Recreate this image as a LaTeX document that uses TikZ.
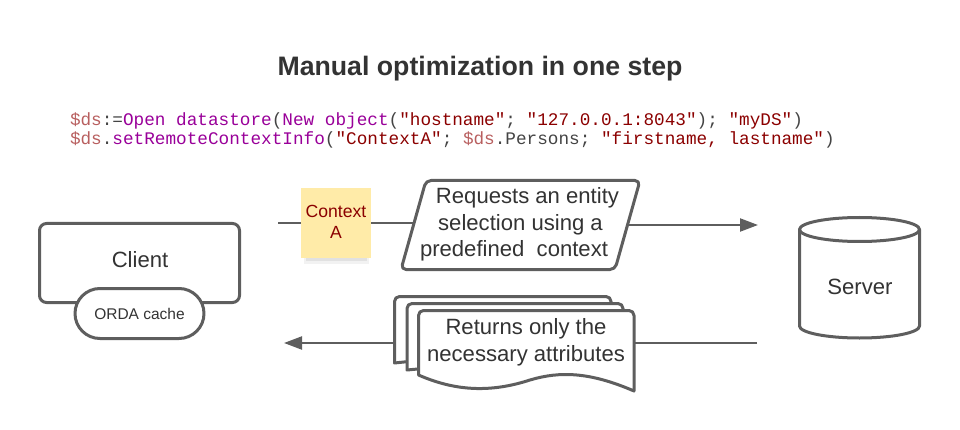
\documentclass[tikz,border=0pt]{standalone}
\usepackage{fontspec}
\setmainfont{Liberation Sans}
\setmonofont{Liberation Mono}
\usetikzlibrary{shapes.geometric,arrows.meta}
\definecolor{stroke}{HTML}{5E5E5E}
\definecolor{ink}{HTML}{333333}
\definecolor{codevar}{HTML}{B85F5F}
\definecolor{codecmd}{HTML}{990099}
\definecolor{codestr}{HTML}{8B0000}
\definecolor{codeop}{HTML}{444444}
\definecolor{sticky}{HTML}{FFEBA8}
\newcommand{\cv}[1]{\textcolor{codevar}{#1}}
\newcommand{\cc}[1]{\textcolor{codecmd}{#1}}
\newcommand{\cs}[1]{\textcolor{codestr}{#1}}
\tikzset{
  shapeline/.style={draw=stroke,line width=3pt,line join=round},
  label21/.style={text=ink,font=\fontsize{22.1}{26.5}\selectfont,align=center,inner sep=0pt,outer sep=0pt},
  codeline/.style={anchor=base west,inner sep=0pt,outer sep=0pt,text=codeop,font=\fontsize{17.7}{20}\ttfamily},
  conn/.style={draw=stroke,line width=2.2pt},
  arrowconn/.style={conn,-{Triangle[length=18pt,width=13pt]}},
}
\begin{document}
\begin{tikzpicture}[x=1pt,y=-1pt]
\useasboundingbox (0,0) rectangle (960,430);
% title
\node[anchor=base,inner sep=0pt,text=ink,font=\fontsize{26.7}{30}\selectfont\bfseries] (title) at (480,76) {Manual optimization in one step};
% code
\node[codeline] (code1) at (70,126) {\cv{\$ds}:=\cc{Open datastore}(\cc{New object}(\cs{"hostname"}; \cs{"127.0.0.1:8043"}); \cs{"myDS"})};
\node[codeline] (code2) at (70,145) {\cv{\$ds}.\cc{setRemoteContextInfo}(\cs{"ContextA"}; \cv{\$ds}.Persons; \cs{"firstname, lastname"})};
% free ends
\coordinate (reqstart) at (278,222.7);
\coordinate (reqwest) at (414,222.7);
\coordinate (reqeast) at (628,225);
\coordinate (reqend) at (758,225);
\coordinate (retstart) at (757,343);
\coordinate (retend) at (284,343);
\coordinate (stackwest) at (394.5,343);
% client
\node[shapeline,rounded corners=7pt,minimum width=200pt,minimum height=79pt,outer sep=0pt,label21] (client) at (139.5,263) {};
\node[label21] (clientlabel) at (140,260) {Client};
\node[shapeline,fill=white,rounded corners=25pt,minimum width=129pt,minimum height=50pt,outer sep=0pt,text=ink,font=\fontsize{15.5}{18}\selectfont,inner sep=0pt] (cache) at (139.5,313.5) {ORDA cache};
% server
\draw[shapeline] (799.5,229.5) arc[start angle=180,end angle=0,x radius=60pt,y radius=12pt] -- (919.5,326) arc[start angle=0,end angle=-180,x radius=60pt,y radius=12pt] -- cycle;
\draw[shapeline] (799.5,229.5) arc[start angle=180,end angle=360,x radius=60pt,y radius=12pt];
\node[label21] (server) at (860,287) {Server};
% sticky note
\fill[black,opacity=.05] (304,258) rectangle (369,264);
\fill[black,opacity=.07] (306,258) rectangle (367,261);
\node[fill=sticky,minimum width=70pt,minimum height=70pt,inner sep=0pt,outer sep=0pt,align=center,text=codestr,font=\fontsize{17.6}{21}\selectfont] (note) at (336,223) {\raisebox{2pt}{Context}\\\raisebox{2pt}{A}};
% parallelogram
\draw[shapeline,fill=white,rounded corners=5pt] (426,180.5) -- (640,180.5) -- (615,269.5) -- (401,269.5) -- cycle;
\node[label21] (request) at (520.5,224.5) {\hspace*{14pt}Requests an entity\\selection using a\\predefined\ \ context\hspace*{13pt}};
% document stack
\draw[shapeline,fill=white] (394.5,363) -- (394.5,301) [rounded corners=5pt] -- (394.5,296.5) -- (611,296.5) [sharp corners] -- (611,340) -- cycle;
\draw[shapeline,fill=white] (407,370) -- (407,308) [rounded corners=5pt] -- (407,303.5) -- (623,303.5) [sharp corners] -- (623,350) -- cycle;
\draw[shapeline,fill=white] (418.5,375) -- (418.5,315) [rounded corners=5pt] -- (418.5,310.5) -- (634,310.5) [sharp corners] -- (634,391) .. controls (590,372) and (560,371) .. (530,380) .. controls (490,393) and (455,391) .. (418.5,375) -- cycle;
\node[label21,minimum width=216pt,minimum height=66pt] (response) at (526,342.5) {Returns only the\\necessary attributes};
% connectors
\draw[conn] (reqstart) -- (note.west |- reqstart);
\draw[conn] (note.east |- reqstart) -- (reqwest);
\draw[arrowconn] (reqeast) -- (reqend);
\draw[conn] (retstart) -- (response.east |- retstart);
\draw[arrowconn] (stackwest) -- (retend);
\end{tikzpicture}
\end{document}
